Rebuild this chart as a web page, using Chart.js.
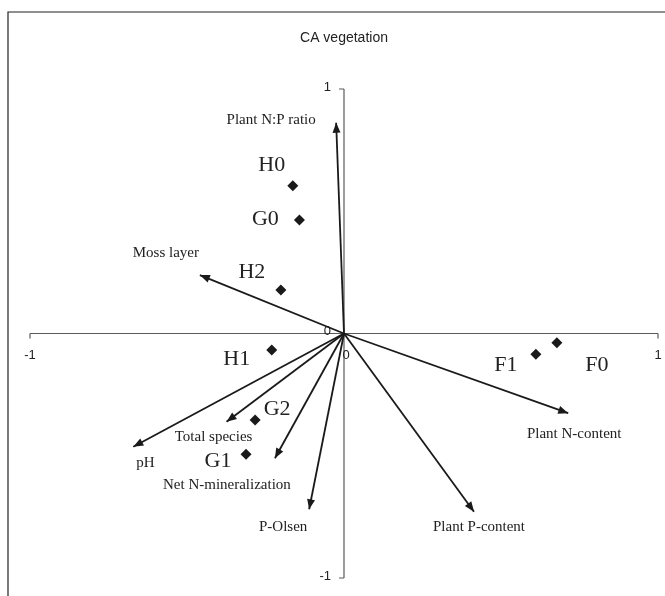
<!DOCTYPE html>
<html>
<head>
<meta charset="utf-8">
<script src="https://cdn.jsdelivr.net/npm/chart.js@4/dist/chart.umd.min.js"></script>
<style>
  html, body { margin: 0; padding: 0; background: #fff; }
  canvas { display: block; }
</style>
</head>
<body>
<canvas id="ca" width="665" height="596"></canvas>
<script>
// Site scores (samples)
const siteNames = ['H0', 'G0', 'H2', 'H1', 'G2', 'G1', 'F1', 'F0'];
const siteX = [-0.163, -0.142, -0.201, -0.230, -0.283, -0.312, 0.611, 0.678];
const siteY = [0.604, 0.464, 0.178, -0.067, -0.354, -0.494, -0.085, -0.038];

// Environmental / response variable vectors
const varNames = ['Plant N:P ratio', 'Moss layer', 'pH', 'Total species',
  'Net N-mineralization', 'P-Olsen', 'Plant P-content', 'Plant N-content'];
const varX = [-0.025, -0.459, -0.671, -0.374, -0.220, -0.111, 0.414, 0.714];
const varY = [0.862, 0.239, -0.463, -0.361, -0.510, -0.719, -0.729, -0.326];

// Axis ticks
const tickValues = [-1, 0, 1];
const tickLabels = ['-1', '0', '1'];

// Label placement (pixel offsets of label centre from the mark)
const siteLabelOffset = {
  H0: [-21, -21], G0: [-34, -1], H2: [-29, -18], H1: [-35, 9],
  G2: [22, -11], G1: [-28, 7], F1: [-30, 11], F0: [40, 22]
};
const varLabelOffset = {
  'Plant N:P ratio': [-65, -3], 'Moss layer': [-34, -22], 'pH': [12, 16],
  'Total species': [-13, 15], 'Net N-mineralization': [-48, 27],
  'P-Olsen': [-26, 18], 'Plant P-content': [5, 15], 'Plant N-content': [6, 21]
};

const SERIF = '"Liberation Serif", "DejaVu Serif", serif';
const SANS = '"Liberation Sans", Arial, sans-serif';
const INK = '#1a1a1a';

const datasets = [];
varNames.forEach((name, i) => {
  datasets.push({
    type: 'line',
    label: name,
    data: [{ x: 0, y: 0 }, { x: varX[i], y: varY[i] }],
    borderColor: INK,
    borderWidth: 1.8,
    pointRadius: 0,
    fill: false,
    tension: 0,
    clip: false,
    isVector: true
  });
});
datasets.push({
  type: 'scatter',
  label: 'Sites',
  data: siteX.map((x, i) => ({ x, y: siteY[i] })),
  pointStyle: 'rectRot',
  pointRadius: 5.5,
  pointHoverRadius: 5.5,
  backgroundColor: INK,
  borderColor: INK,
  borderWidth: 0,
  clip: false,
  isSites: true
});

const biplot = {
  id: 'biplot',
  beforeDraw(chart) {
    const ctx = chart.ctx;
    ctx.save();
    ctx.fillStyle = '#fff';
    ctx.fillRect(0, 0, chart.width, chart.height);
    // outer frame
    ctx.strokeStyle = '#222';
    ctx.lineWidth = 1.2;
    ctx.beginPath();
    ctx.moveTo(8, chart.height + 2);
    ctx.lineTo(8, 12);
    ctx.lineTo(chart.width + 2, 12);
    ctx.stroke();
    ctx.restore();
  },
  beforeDatasetsDraw(chart) {
    const ctx = chart.ctx;
    const xs = chart.scales.x, ys = chart.scales.y;
    const x0 = xs.getPixelForValue(0), y0 = ys.getPixelForValue(0);
    const xl = xs.getPixelForValue(-1), xr = xs.getPixelForValue(1);
    const yt = ys.getPixelForValue(1), yb = ys.getPixelForValue(-1);
    ctx.save();
    ctx.strokeStyle = '#5a5a5a';
    ctx.lineWidth = 1.2;
    ctx.beginPath();
    ctx.moveTo(xl, y0); ctx.lineTo(xr, y0);
    ctx.moveTo(x0, yt); ctx.lineTo(x0, yb);
    // tick marks
    tickValues.forEach(v => {
      const px = xs.getPixelForValue(v);
      ctx.moveTo(px, y0); ctx.lineTo(px, y0 + 5);
      const py = ys.getPixelForValue(v);
      ctx.moveTo(x0, py); ctx.lineTo(x0 - 5, py);
    });
    ctx.stroke();
    // tick labels
    ctx.fillStyle = '#222';
    ctx.font = '13px ' + SANS;
    ctx.textBaseline = 'middle';
    ctx.textAlign = 'center';
    tickValues.forEach((v, i) => {
      const px = xs.getPixelForValue(v);
      ctx.fillText(tickLabels[i], px + (v === 0 ? 2 : 0), y0 + 22);
    });
    ctx.textAlign = 'right';
    tickValues.forEach((v, i) => {
      const py = ys.getPixelForValue(v);
      ctx.fillText(tickLabels[i], x0 - 13, py - 2);
    });
    ctx.restore();
  },
  afterDatasetsDraw(chart) {
    const ctx = chart.ctx;
    ctx.save();
    chart.data.datasets.forEach((ds, di) => {
      const meta = chart.getDatasetMeta(di);
      if (ds.isVector) {
        const a = meta.data[0], b = meta.data[1];
        const ang = Math.atan2(b.y - a.y, b.x - a.x);
        const len = 10, half = 4;
        ctx.fillStyle = INK;
        ctx.beginPath();
        ctx.moveTo(b.x, b.y);
        ctx.lineTo(b.x - len * Math.cos(ang) + half * Math.sin(ang),
                   b.y - len * Math.sin(ang) - half * Math.cos(ang));
        ctx.lineTo(b.x - len * Math.cos(ang) - half * Math.sin(ang),
                   b.y - len * Math.sin(ang) + half * Math.cos(ang));
        ctx.closePath();
        ctx.fill();
        const off = varLabelOffset[ds.label] || [0, 0];
        ctx.font = '15px ' + SERIF;
        ctx.fillStyle = '#222';
        ctx.textAlign = 'center';
        ctx.textBaseline = 'middle';
        ctx.fillText(ds.label, b.x + off[0], b.y + off[1]);
      } else if (ds.isSites) {
        ctx.font = '22px ' + SERIF;
        ctx.fillStyle = '#222';
        ctx.textAlign = 'center';
        ctx.textBaseline = 'middle';
        meta.data.forEach((pt, i) => {
          const name = siteNames[i];
          const off = siteLabelOffset[name] || [0, 0];
          ctx.fillText(name, pt.x + off[0], pt.y + off[1]);
        });
      }
    });
    ctx.restore();
  }
};

new Chart(document.getElementById('ca'), {
  data: { datasets },
  options: {
    responsive: false,
    animation: false,
    devicePixelRatio: 1,
    layout: { padding: { left: 30, right: 7, top: 0, bottom: 18 } },
    scales: {
      x: { type: 'linear', min: -1, max: 1, display: false },
      y: { type: 'linear', min: -1, max: 1, display: false }
    },
    plugins: {
      legend: { display: false },
      tooltip: { enabled: false },
      title: {
        display: true,
        text: 'CA vegetation',
        color: '#222',
        font: { family: SANS, size: 14, weight: 'normal' },
        padding: { top: 29.6, bottom: 42.6 }
      }
    }
  },
  plugins: [biplot]
});
</script>
</body>
</html>
